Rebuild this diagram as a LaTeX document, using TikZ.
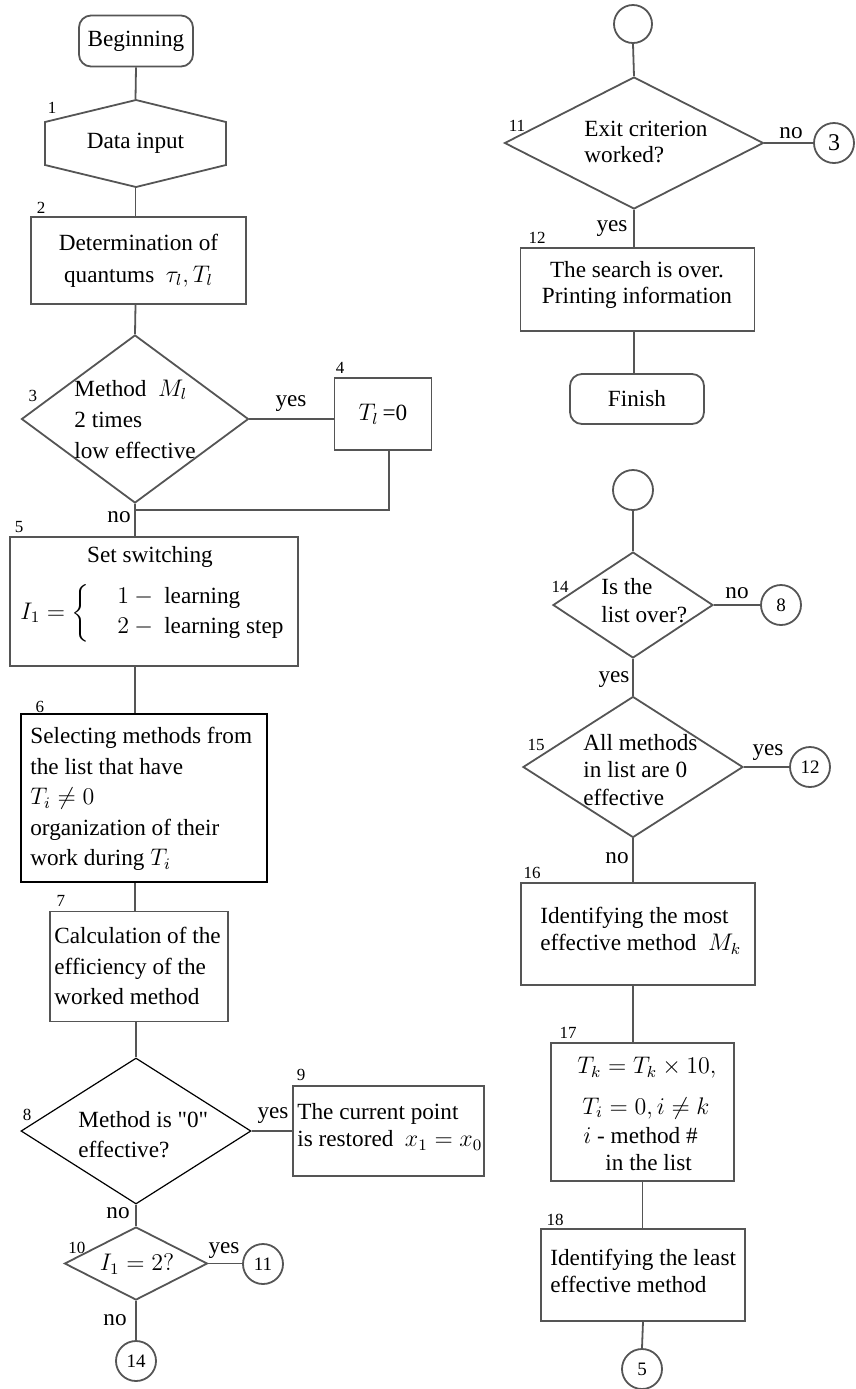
\documentclass[tikz,border=0pt]{standalone}
\usepackage{amsmath}
\usepackage{fontspec}
\setmainfont{Liberation Serif}
\newfontfamily\qfont{Liberation Serif}[Ligatures=ResetAll]
\usetikzlibrary{shapes.geometric}
\definecolor{linec}{RGB}{85,85,85}
\newcommand{\fs}[1]{\fontsize{11.6}{#1}\selectfont}
\begin{document}
\begin{tikzpicture}[x=0.5pt,y=-0.5pt,
  txt/.style={inner sep=0pt, font=\fs{15pt}, align=left},
  box/.style={draw=linec, line width=0.9pt, rectangle, inner sep=0pt},
  rbox/.style={box, rounded corners=6pt},
  dia/.style={draw=linec, line width=0.9pt, diamond, inner sep=0pt},
  circ/.style={draw=linec, line width=0.9pt, circle, minimum size=20pt, inner sep=0pt, font=\fontsize{9.5}{11}\selectfont},
  num/.style={inner sep=0pt, font=\fontsize{8.5}{10}\selectfont},
  yn/.style={inner sep=0pt, font=\fs{14pt}},
  conn/.style={draw=linec, line width=0.9pt}]
\useasboundingbox (0,0) rectangle (856,1389);

% ---------------- left column ----------------
\node[rbox, minimum width=57pt, minimum height=25.5pt, txt] (begin) at (136,41) {Beginning};

\node[inner sep=0pt, minimum width=90.5pt, minimum height=43.5pt, font=\fs{15pt}] (d1) at (135.5,143.5) {Data input};
\draw[conn] (136,100) -- (226,122) -- (226,165) -- (136,187) -- (45,165) -- (45,122) -- cycle;
\node[num] (n1) at (52,108) {1};

\node[box, minimum width=107.5pt, minimum height=43.5pt, txt, align=center, font=\fs{16pt}] (b2) at (138.5,260.5) {Determination of\\quantums\ \ $\tau_l, T_l$};
\node[num] (n2) at (41,208) {2};

\node[dia, minimum width=113.5pt, minimum height=84pt] (d3) at (135,419) {};
\node[txt, anchor=west, font=\fs{15.5pt}] (t3) at (74,419) {Method\ \ $M_l$\\2 times\\low effective};
\node[num] (n3) at (33,396) {3};

\node[box, minimum width=48.5pt, minimum height=36pt, txt] (b4) at (383,414) {$T_l$\,=0};
\node[num] (n4) at (340,368) {4};
\coordinate (j1) at (136,510);

\node[box, minimum width=144pt, minimum height=64.5pt] (b5) at (154,601.5) {};
\node[txt] (t5a) at (150,557) {Set switching};
\node[txt, anchor=west] (t5b) at (20,613) {$I_1 = \bigg\{$};
\node[txt, anchor=west] (t5c) at (117,613) {$1 -{}$ learning\\$2 -{}$ learning step};
\node[num] (n5) at (19,527) {5};

\node[box, draw=black, minimum width=123pt, minimum height=84pt] (b6) at (144,798) {};
\node[txt, anchor=west, font=\fs{15.25pt}] (t6) at (30,799) {Selecting methods from\\the list that have\\$T_i \neq 0$\\organization of their\\work during $T_i$};
\node[num] (n6) at (40,707) {6};

\node[box, minimum width=89pt, minimum height=55pt] (b7) at (139,966.5) {};
\node[txt, anchor=west, font=\fs{15.25pt}] (t7) at (54,966) {Calculation of the\\efficiency of the\\worked method};
\node[num] (n7) at (61,901) {7};

\node[dia, draw=black, line width=0.6pt, minimum width=115pt, minimum height=73pt] (d8) at (136,1131) {};
\node[txt, anchor=west] (t8) at (78,1135) {Method is {\qfont"}0{\qfont"}\\effective?};
\node[num] (n8) at (27,1115) {8};

\node[box, minimum width=95.5pt, minimum height=45pt] (b9) at (388.5,1131) {};
\node[txt, anchor=west, font=\fs{13.5pt}] (t9) at (297,1127) {The current point\\is restored\ \ $x_1 = x_0$};
\node[num] (n9) at (301,1075) {9};

\node[dia, minimum width=71.5pt, minimum height=36.5pt] (d10) at (136,1263.5) {};
\node[txt] (t10) at (137,1264) {$I_1 = 2?$};
\node[num] (n10) at (77,1248) {10};

\node[circ] (c11) at (263,1264) {11};
\node[circ] (c14) at (136,1361) {14};

% left connectors
\draw[conn] (begin.south) -- (d1.north);
\draw[conn] (d1.south) -- (d1.south |- b2.north);
\draw[conn] (d1.south |- b2.south) -- (d3.north);
\draw[conn] (d3.east) -- (d3.east -| b4.west);
\draw[conn] ([xshift=3pt]b4.south) |- (j1);
\draw[conn] (d3.south) -- (d3.south |- b5.north);
\draw[conn] (d3.south |- b5.south) -- (d3.south |- b6.north);
\draw[conn] (d3.south |- b6.south) -- (d3.south |- b7.north);
\draw[conn] (d8.north |- b7.south) -- (d8.north);
\draw[conn] (d8.east) -- (d8.east -| b9.west);
\draw[conn] (d8.south) -- (d10.north);
\draw[conn] (d10.east) -- (d10.east -| c11.west);
\draw[conn] (d10.south) -- (c14.north);

\node[yn] (y3) at (291,404) {yes};
\node[yn] (no3) at (119,517) {no};
\node[yn] (y8) at (273,1116) {yes};
\node[yn] (no8) at (118,1213) {no};
\node[yn] (y10) at (224,1251) {yes};
\node[yn] (no10) at (115,1320) {no};

% ---------------- right column ----------------
\node[circ, minimum size=19pt] (ct1) at (633,24) {};
\node[dia, minimum width=129.5pt, minimum height=66pt] (d11) at (634,143) {};
\node[txt, anchor=west, font=\fs{13pt}] (t11) at (584,142) {Exit criterion\\worked?};
\node[num] (n11) at (517,126) {11};
\node[circ, font=\fontsize{12}{13}\selectfont] (c3) at (834,143) {3};

\node[box, minimum width=117pt, minimum height=41.5pt] (b12) at (637.5,289.5) {};
\node[txt, align=center, font=\fs{13pt}] (t12) at (637,285) {The search is over.\\Printing information};
\node[num] (n12) at (537,238) {12};

\node[rbox, minimum width=67pt, minimum height=25pt, txt] (fin) at (637,399) {Finish};

\node[circ] (ct2) at (633,490) {};
\node[dia, minimum width=80pt, minimum height=53pt] (d14) at (633,605) {};
\node[txt, anchor=west, font=\fs{14pt}] (t14) at (601,601) {Is the\\list over?};
\node[num] (n14) at (560,587) {14};
\node[circ] (c8) at (781,605) {8};

\node[dia, minimum width=110pt, minimum height=70.5pt] (d15) at (633,767) {};
\node[txt, anchor=west, font=\fs{13.75pt}] (t15) at (583,770) {All methods\\in list are 0\\effective};
\node[num] (n15) at (536,745) {15};
\node[circ] (c12) at (810,767) {12};

\node[box, minimum width=117pt, minimum height=51pt] (b16) at (638,934) {};
\node[txt, anchor=west, font=\fs{13.5pt}] (t16) at (540,931) {Identifying the most\\effective method\ \ $M_k$};
\node[num] (n16) at (532,873) {16};

\node[box, minimum width=91.5pt, minimum height=69pt] (b17) at (642.5,1112) {};
\node[txt, anchor=west] (t17a) at (577,1068) {$T_k = T_k \times 10,$};
\node[txt, anchor=west] (t17b) at (582,1108) {$T_i = 0, i \neq k$};
\node[txt, anchor=west] (t17c) at (583,1136) {$i$ - method \#};
\node[txt, anchor=west] (t17d) at (605,1163) {in the list};
\node[num] (n17) at (568,1033) {17};

\node[box, minimum width=102pt, minimum height=46pt] (b18) at (643,1275) {};
\node[txt, anchor=west, font=\fs{13.5pt}] (t18) at (550,1271) {Identifying the least\\effective method};
\node[num] (n18) at (555,1220) {18};

\node[circ] (c5) at (642,1369) {5};

% right connectors
\draw[conn] (ct1.south) -- (d11.north);
\draw[conn] (d11.east) -- (c3.west);
\draw[conn] (d11.south) -- (d11.south |- b12.north);
\draw[conn] (d11.south |- b12.south) -- (d11.south |- fin.north);
\draw[conn] (ct2.south) -- (d14.north);
\draw[conn] (d14.east) -- (c8.west);
\draw[conn] (d14.south) -- (d15.north);
\draw[conn] (d15.east) -- (c12.west);
\draw[conn] (d15.south) -- (d15.south |- b16.north);
\draw[conn] (d15.south |- b16.south) -- (d15.south |- b17.north);
\draw[conn] (b17.south) -- (b17.south |- b18.north);
\draw[conn] (b18.south) -- (c5.north);

\node[yn] (no11) at (791,133) {no};
\node[yn] (y11) at (612,229) {yes};
\node[yn] (no14) at (737,593) {no};
\node[yn] (y14) at (614,680) {yes};
\node[yn] (y15) at (768,753) {yes};
\node[yn] (no15) at (617,858) {no};
\end{tikzpicture}
\end{document}
